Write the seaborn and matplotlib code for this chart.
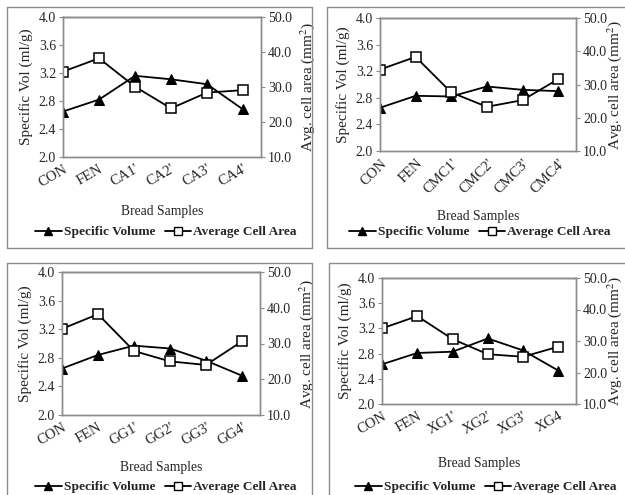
"""
Bread samples: specific volume vs. average cell area (4 hydrocolloid panels).
"""

import matplotlib
matplotlib.use("Agg")
import matplotlib.pyplot as plt
from matplotlib.patches import Rectangle
from matplotlib.lines import Line2D
import pandas as pd
import seaborn as sns

# ---- data ----
samples_ca = ["CON", "FEN", "CA1'", "CA2'", "CA3'", "CA4'"]
samples_cmc = ["CON", "FEN", "CMC1'", "CMC2'", "CMC3'", "CMC4'"]
samples_gg = ["CON", "FEN", "GG1'", "GG2'", "GG3'", "GG4'"]
samples_xg = ["CON", "FEN", "XG1'", "XG2'", "XG3'", "XG4"]

vol_ca = [2.65, 2.82, 3.16, 3.11, 3.04, 2.68]
vol_cmc = [2.65, 2.83, 2.82, 2.97, 2.92, 2.90]
vol_gg = [2.65, 2.84, 2.97, 2.93, 2.76, 2.55]
vol_xg = [2.63, 2.81, 2.83, 3.04, 2.85, 2.53]

area_ca = [34.4, 38.2, 30.1, 23.9, 28.4, 29.1]
area_cmc = [34.5, 38.3, 27.6, 23.3, 25.3, 31.6]
area_gg = [34.1, 38.2, 27.9, 25.0, 24.0, 30.6]
area_xg = [34.0, 37.9, 30.6, 25.8, 25.0, 28.2]

vol_ticks = [2.0, 2.4, 2.8, 3.2, 3.6, 4.0]
area_ticks = [10, 20, 30, 40, 50]

sns.set_theme(style="white")
plt.rcParams["font.family"] = ["Liberation Serif", "DejaVu Serif"]
plt.rcParams["mathtext.fontset"] = "stix"

W, H = 625, 495
fig = plt.figure(figsize=(W / 100, H / 100), dpi=100)
fig.patch.set_facecolor("white")

def px_axes(l, t, r, b):
    return fig.add_axes([l / W, 1 - b / H, (r - l) / W, (b - t) / H])

def frame(l, t, r, b):
    fig.add_artist(Rectangle((l / W, 1 - b / H), (r - l) / W, (b - t) / H,
                             transform=fig.transFigure, fill=False,
                             edgecolor="#8c8c8c", lw=1.0))

# (samples, volume, area, axes box, frame box, tick rotation, label y, legend xy, right labelpad)
panels = [
    (samples_ca, vol_ca, area_ca, (63, 17, 261, 157), (7, 7, 312, 248), 30, 212, (166, 232), 4),
    (samples_cmc, vol_cmc, area_cmc, (380, 18, 576, 151), (327, 7, 640, 248), 45, 217, (480, 232), -1.5),
    (samples_gg, vol_gg, area_gg, (62, 272, 260, 415), (7, 263, 312, 505), 30, 468, (166, 487), 4),
    (samples_xg, vol_xg, area_xg, (382, 278, 576, 404), (329, 263, 640, 505), 30, 463, (486, 487), -1.5),
]

gray = "#8c8c8c"
for names, vol, area, box, fbox, rot, lab_y, leg_xy, rpad in panels:
    frame(*fbox)
    ax = px_axes(*box)
    ax2 = ax.twinx()
    df = pd.DataFrame({"sample": names, "vol": vol, "area": area})

    sns.lineplot(data=df, x="sample", y="vol", ax=ax, color="black", lw=1.3,
                 marker="^", markersize=7, markerfacecolor="black",
                 markeredgecolor="black", sort=False)
    sns.lineplot(data=df, x="sample", y="area", ax=ax2, color="black", lw=1.3,
                 marker="s", markersize=6.5, markerfacecolor="white",
                 markeredgecolor="black", markeredgewidth=1.1, sort=False)

    ax.set_xlim(0, len(names) - 0.5)
    ax.set_ylim(2.0, 4.0)
    ax2.set_ylim(10, 50)
    ax.set_yticks(vol_ticks)
    ax.set_yticklabels([f"{v:.1f}" for v in vol_ticks], fontsize=10)
    ax2.set_yticks(area_ticks)
    ax2.set_yticklabels([f"{v:.1f}" for v in area_ticks], fontsize=10)
    ax.set_xticks(range(len(names)))
    ax.set_xticklabels(names, fontsize=10.5, rotation=rot, ha="right",
                       va="top", rotation_mode="anchor")

    ax.set_xlabel("")
    ax.set_ylabel("Specific Vol (ml/g)", fontsize=11, labelpad=4)
    ax2.set_ylabel("Avg. cell area (mm$^2$)", fontsize=11, labelpad=rpad)
    ax2.set_xlabel("")

    for a in (ax, ax2):
        for s in a.spines.values():
            s.set_color(gray)
            s.set_linewidth(1.0)
        a.grid(False)
    ax.spines["top"].set_color("#333333")
    ax.tick_params(axis="y", direction="out", length=3, width=0.8, color=gray, pad=2)
    ax2.tick_params(axis="y", direction="out", length=3, width=0.8, color=gray, pad=2)
    ax.tick_params(axis="x", direction="in", length=3, width=0.8, color=gray, pad=4)

    cx = (box[0] + box[2]) / 2
    fig.text(cx / W, 1 - lab_y / H, "Bread Samples", ha="center", va="center",
             fontsize=9.8)

    handles = [
        Line2D([], [], color="black", lw=1.3, marker="^", markersize=6,
               markerfacecolor="black"),
        Line2D([], [], color="black", lw=1.3, marker="s", markersize=5.5,
               markerfacecolor="white", markeredgewidth=1.0),
    ]
    fig.legend(handles, ["Specific Volume", "Average Cell Area"],
               loc="center", bbox_to_anchor=(leg_xy[0] / W, 1 - leg_xy[1] / H),
               ncol=2, frameon=False, handlelength=2.0, handletextpad=0.15,
               columnspacing=0.7, borderpad=0, prop={"weight": "bold", "size": 9.6})

fig.savefig("out.png", dpi=100, facecolor="white")
